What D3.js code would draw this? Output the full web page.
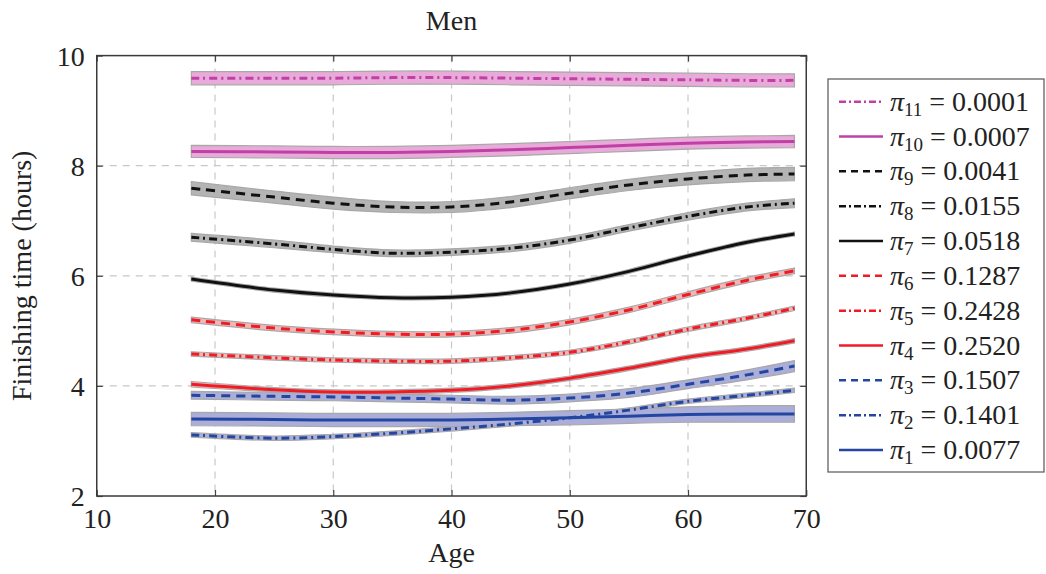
<!DOCTYPE html>
<html>
<head>
<meta charset="utf-8">
<script src="https://cdn.jsdelivr.net/npm/d3@7"></script>
<style>
  html, body { margin: 0; padding: 0; background: #fff; }
  svg text { font-family: "Liberation Serif", "Times New Roman", Tinos, "Nimbus Roman", "Noto Serif", "DejaVu Serif", serif; fill: #222; }
</style>
</head>
<body>
<svg id="chart" width="1046" height="574"></svg>
<script>
// Ages at which each component's mean curve is sampled
const ages = [18, 25, 30, 35, 40, 45, 50, 55, 60, 65, 69];

// Mean finishing time (hours) per mixture component
const pi11 = [9.59, 9.59, 9.59, 9.60, 9.60, 9.59, 9.58, 9.57, 9.56, 9.55, 9.55];
const pi10 = [8.26, 8.25, 8.24, 8.24, 8.26, 8.29, 8.33, 8.37, 8.41, 8.43, 8.44];
const pi9  = [7.59, 7.43, 7.32, 7.25, 7.25, 7.34, 7.50, 7.65, 7.76, 7.83, 7.85];
const pi8  = [6.70, 6.58, 6.48, 6.41, 6.43, 6.50, 6.65, 6.87, 7.08, 7.25, 7.32];
const pi7  = [5.94, 5.74, 5.65, 5.60, 5.61, 5.69, 5.85, 6.08, 6.36, 6.61, 6.76];
const pi6  = [5.20, 5.05, 4.98, 4.94, 4.94, 5.01, 5.16, 5.38, 5.66, 5.92, 6.09];
const pi5  = [4.58, 4.51, 4.47, 4.45, 4.45, 4.51, 4.61, 4.80, 5.03, 5.23, 5.41];
const pi4  = [4.03, 3.93, 3.89, 3.89, 3.92, 4.00, 4.14, 4.32, 4.52, 4.67, 4.82];
const pi3  = [3.83, 3.81, 3.80, 3.78, 3.76, 3.74, 3.78, 3.87, 4.03, 4.20, 4.36];
const pi2  = [3.11, 3.05, 3.08, 3.14, 3.22, 3.31, 3.42, 3.56, 3.72, 3.83, 3.92];
const pi1  = [3.40, 3.39, 3.38, 3.38, 3.38, 3.40, 3.42, 3.45, 3.48, 3.49, 3.49];

// Half-width of the uncertainty band around each curve (hours)
const band11 = [0.12, 0.12, 0.12, 0.12, 0.12, 0.12, 0.12, 0.12, 0.12, 0.12, 0.12];
const band10 = [0.11, 0.11, 0.11, 0.11, 0.11, 0.11, 0.11, 0.11, 0.11, 0.11, 0.11];
const band9  = [0.12, 0.11, 0.11, 0.10, 0.10, 0.10, 0.10, 0.10, 0.11, 0.12, 0.12];
const band8  = [0.07, 0.07, 0.06, 0.06, 0.06, 0.06, 0.06, 0.06, 0.07, 0.07, 0.08];
const band7  = [0.035, 0.035, 0.035, 0.035, 0.035, 0.035, 0.035, 0.035, 0.035, 0.035, 0.035];
const band6  = [0.05, 0.05, 0.05, 0.05, 0.05, 0.05, 0.05, 0.05, 0.05, 0.05, 0.05];
const band5  = [0.04, 0.04, 0.04, 0.04, 0.04, 0.04, 0.04, 0.04, 0.04, 0.04, 0.04];
const band4  = [0.05, 0.04, 0.04, 0.04, 0.04, 0.04, 0.04, 0.04, 0.04, 0.04, 0.04];
const band3  = [0.07, 0.07, 0.07, 0.07, 0.07, 0.07, 0.07, 0.08, 0.08, 0.09, 0.10];
const band2  = [0.04, 0.04, 0.04, 0.04, 0.04, 0.04, 0.04, 0.04, 0.04, 0.04, 0.04];
const band1  = [0.12, 0.12, 0.12, 0.12, 0.12, 0.12, 0.13, 0.13, 0.14, 0.15, 0.15];

// Legend entries: component index and mixing weight
const compIndex = ["11", "10", "9", "8", "7", "6", "5", "4", "3", "2", "1"];
const weights = ["0.0001", "0.0007", "0.0041", "0.0155", "0.0518", "0.1287", "0.2428", "0.2520", "0.1507", "0.1401", "0.0077"];

// Axis ticks
const xTicks = [10, 20, 30, 40, 50, 60, 70];
const yTicks = [2, 4, 6, 8, 10];

// Styles per colour family
const MAG = "#c040a6", MAG_F = "#e8aad8";
const BLK = "#111111", BLK_F = "#b4b4b4";
const RED = "#ee1c24", RED_F = "#f6b4b4";
const BLU = "#2446a0", BLU_F = "#aaaed8";
const DASHED = "9,6", DASHDOT = "8,4,2,4", SOLID = null;

const series = [
  { v: pi11, b: band11, c: MAG, f: MAG_F, d: DASHDOT },
  { v: pi10, b: band10, c: MAG, f: MAG_F, d: SOLID },
  { v: pi9,  b: band9,  c: BLK, f: BLK_F, d: DASHED },
  { v: pi8,  b: band8,  c: BLK, f: BLK_F, d: DASHDOT },
  { v: pi7,  b: band7,  c: BLK, f: BLK_F, d: SOLID },
  { v: pi6,  b: band6,  c: RED, f: RED_F, d: DASHED },
  { v: pi5,  b: band5,  c: RED, f: RED_F, d: DASHDOT },
  { v: pi4,  b: band4,  c: RED, f: RED_F, d: SOLID },
  { v: pi3,  b: band3,  c: BLU, f: BLU_F, d: DASHED },
  { v: pi2,  b: band2,  c: BLU, f: BLU_F, d: DASHDOT },
  { v: pi1,  b: band1,  c: BLU, f: BLU_F, d: SOLID }
];

const svg = d3.select("#chart");
const L = 96.75, R = 806.25, T = 55.6, B = 496;
const SERIF = '"Liberation Serif", "Times New Roman", Tinos, "Nimbus Roman", "Noto Serif", "DejaVu Serif", serif';

const x = d3.scaleLinear().domain([10, 70]).range([L, R]);
const y = d3.scaleLinear().domain([2, 10]).range([B, T]);

// Grid
const grid = svg.append("g");
grid.selectAll("line.gx").data(xTicks.slice(1, -1)).join("line")
  .attr("x1", d => x(d)).attr("x2", d => x(d)).attr("y1", T).attr("y2", B)
  .attr("stroke", "#c8c8c8").attr("stroke-width", 1.2).attr("stroke-dasharray", "7,6");
grid.selectAll("line.gy").data(yTicks.slice(1, -1)).join("line")
  .attr("x1", L).attr("x2", R).attr("y1", d => y(d)).attr("y2", d => y(d))
  .attr("stroke", "#c8c8c8").attr("stroke-width", 1.2).attr("stroke-dasharray", "7,6");

// Bands and curves
const curve = d3.curveCatmullRom.alpha(0.5);
const area = d3.area().curve(curve)
  .x(d => x(d.a)).y0(d => y(d.m - d.h)).y1(d => y(d.m + d.h));
const line = d3.line().curve(curve).x(d => x(d.a)).y(d => y(d.m));

const pts = s => ages.map((a, i) => ({ a, m: s.v[i], h: s.b[i] }));

svg.append("g").selectAll("path").data(series).join("path")
  .attr("d", s => area(pts(s)))
  .attr("fill", s => s.f).attr("stroke", "#a8a8a8").attr("stroke-width", 1.2);

svg.append("g").selectAll("path").data(series).join("path")
  .attr("d", s => line(pts(s)))
  .attr("fill", "none").attr("stroke", s => s.c).attr("stroke-width", 3)
  .attr("stroke-dasharray", s => s.d);

// Axes (ticks point inward, mirrored on opposite sides)
const tickLen = 6;
const xb = svg.append("g").attr("transform", `translate(0,${B})`)
  .call(d3.axisBottom(x).tickValues(xTicks).tickSize(-tickLen).tickPadding(12));
const xt = svg.append("g").attr("transform", `translate(0,${T})`)
  .call(d3.axisTop(x).tickValues(xTicks).tickSize(-tickLen).tickFormat(""));
const yl = svg.append("g").attr("transform", `translate(${L},0)`)
  .call(d3.axisLeft(y).tickValues(yTicks).tickSize(-tickLen).tickPadding(12));
const yr = svg.append("g").attr("transform", `translate(${R},0)`)
  .call(d3.axisRight(y).tickValues(yTicks).tickSize(-tickLen).tickFormat(""));
[xb, xt, yl, yr].forEach(g => {
  g.attr("font-family", SERIF);
  g.select(".domain").remove();
  g.selectAll(".tick line").attr("stroke", "#444").attr("stroke-width", 1.2);
  g.selectAll(".tick text").attr("font-size", 28).style("font-family", SERIF).attr("fill", "#222");
});
xb.selectAll(".tick text").attr("dy", "0.71em");
yl.selectAll(".tick text").attr("dy", "0.34em");

// Frame
svg.append("rect").attr("x", L).attr("y", T).attr("width", R - L).attr("height", B - T)
  .attr("fill", "none").attr("stroke", "#3a3a3a").attr("stroke-width", 1.5);

// Titles
svg.append("text").attr("x", (L + R) / 2).attr("y", 30).attr("text-anchor", "middle")
  .attr("font-size", 28).style("font-family", SERIF).text("Men");
svg.append("text").attr("x", (L + R) / 2).attr("y", 562).attr("text-anchor", "middle")
  .attr("font-size", 28).style("font-family", SERIF).text("Age");
svg.append("text").attr("transform", `translate(31,${(T + B) / 2}) rotate(-90)`)
  .attr("text-anchor", "middle").attr("font-size", 28).style("font-family", SERIF)
  .text("Finishing time (hours)");

// Legend
const LX = 828, LY = 79, LW = 216, LH = 393, rowY0 = 101.7, rowStep = 34.83;
svg.append("rect").attr("x", LX).attr("y", LY).attr("width", LW).attr("height", LH)
  .attr("fill", "#fff").attr("stroke", "#555").attr("stroke-width", 1.2);
const rows = svg.append("g").selectAll("g").data(series).join("g")
  .attr("transform", (s, i) => `translate(0,${rowY0 + i * rowStep})`);
rows.append("line").attr("x1", 839).attr("x2", 883).attr("y1", 0).attr("y2", 0)
  .attr("stroke", s => s.c).attr("stroke-width", 2.5)
  .attr("stroke-dasharray", s => s.d === DASHED ? "7,5" : s.d === DASHDOT ? "7,3,2,3" : null);
const lt = rows.append("text").attr("x", 890).attr("y", 9).attr("font-size", 28)
  .style("font-family", SERIF);
lt.append("tspan").attr("font-style", "italic").text("π");
lt.append("tspan").attr("font-size", 19).attr("dy", 5).text((s, i) => compIndex[i]);
lt.append("tspan").attr("dy", -5).text((s, i) => " = " + weights[i]);
</script>
</body>
</html>
